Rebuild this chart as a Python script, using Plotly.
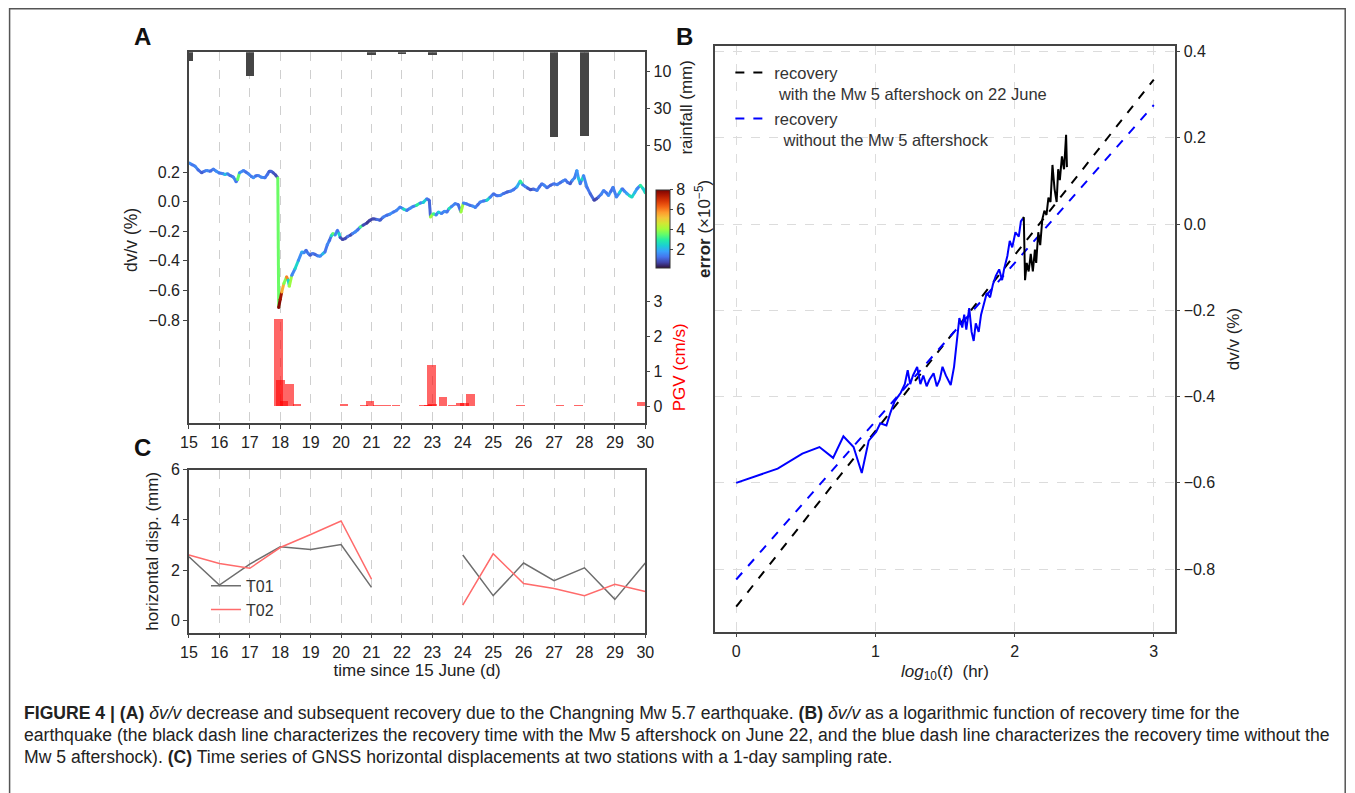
import plotly.graph_objects as go
from plotly.colors import sequential, make_colorscale, sample_colorscale

W, H = 1355, 793

# ---------------- Panel A data ----------------
a_days = [15.00, 15.10, 15.20, 15.30, 15.42, 15.50, 15.58, 15.70, 15.80, 15.90,
          16.00, 16.10, 16.18, 16.27, 16.35, 16.46, 16.55, 16.60, 16.66, 16.79,
          16.87, 16.95, 17.05, 17.12, 17.20, 17.28, 17.38, 17.50, 17.58, 17.64,
          17.70, 17.77, 17.85, 17.92, 17.95, 18.00, 18.05, 18.12, 18.21, 18.26,
          18.30, 18.38, 18.49, 18.60, 18.71, 18.78, 18.85, 18.92, 18.98, 19.06,
          19.14, 19.22, 19.31, 19.40, 19.47, 19.55, 19.62, 19.68, 19.73, 19.80,
          19.88, 19.93, 19.97, 20.05, 20.13, 20.22, 20.30, 20.38, 20.46, 20.55,
          20.63, 20.72, 20.85, 20.95, 21.06, 21.18, 21.28, 21.38, 21.50, 21.60,
          21.72, 21.82, 21.94, 22.05, 22.16, 22.27, 22.37, 22.48, 22.60, 22.70,
          22.82, 22.90, 22.94, 23.03, 23.12, 23.20, 23.30, 23.40, 23.48, 23.55,
          23.62, 23.75, 23.85, 23.94, 24.02, 24.12, 24.24, 24.33, 24.41, 24.50,
          24.57, 24.68, 24.79, 24.90, 25.01, 25.12, 25.23, 25.34, 25.45, 25.56,
          25.67, 25.78, 25.89, 25.97, 26.05, 26.13, 26.22, 26.33, 26.44, 26.52,
          26.60, 26.68, 26.77, 26.88, 26.99, 27.10, 27.20, 27.29, 27.37, 27.45,
          27.53, 27.60, 27.68, 27.75, 27.80, 27.86, 27.92, 27.97, 28.08, 28.19,
          28.32, 28.40, 28.46, 28.55, 28.63, 28.72, 28.79, 28.87, 28.94, 29.05,
          29.15, 29.24, 29.32, 29.40, 29.48, 29.56, 29.65, 29.73, 29.84, 29.92,
          30.00]
a_dvv = [0.262, 0.250, 0.240, 0.215, 0.195, 0.205, 0.211, 0.205, 0.220, 0.205,
         0.193, 0.190, 0.184, 0.188, 0.177, 0.166, 0.135, 0.150, 0.195, 0.210,
         0.200, 0.189, 0.170, 0.162, 0.175, 0.177, 0.165, 0.162, 0.185, 0.206,
         0.205, 0.195, 0.180, 0.160, -0.715, -0.660, -0.610, -0.553, -0.508, -0.530,
         -0.571, -0.497, -0.452, -0.396, -0.340, -0.345, -0.328, -0.350, -0.362, -0.350,
         -0.355, -0.365, -0.369, -0.352, -0.340, -0.290, -0.261, -0.230, -0.216, -0.225,
         -0.194, -0.215, -0.243, -0.255, -0.250, -0.235, -0.227, -0.215, -0.205, -0.190,
         -0.171, -0.160, -0.144, -0.125, -0.115, -0.120, -0.126, -0.105, -0.092, -0.085,
         -0.070, -0.060, -0.036, -0.050, -0.059, -0.045, -0.032, -0.025, -0.009, -0.005,
         0.020, 0.009, -0.104, -0.081, -0.090, -0.070, -0.080, -0.065, -0.070, -0.047,
         -0.035, -0.013, -0.020, -0.070, -0.009, -0.015, -0.025, -0.030, -0.040, -0.020,
         -0.003, 0.005, 0.009, 0.030, 0.054, 0.040, 0.042, 0.055, 0.065, 0.070,
         0.081, 0.100, 0.139, 0.115, 0.103, 0.092, 0.081, 0.085, 0.076, 0.100,
         0.121, 0.110, 0.094, 0.110, 0.121, 0.115, 0.128, 0.140, 0.148, 0.130,
         0.121, 0.145, 0.162, 0.211, 0.160, 0.121, 0.150, 0.177, 0.098, 0.054,
         0.009, 0.020, 0.031, 0.050, 0.076, 0.060, 0.042, 0.070, 0.098, 0.031,
         0.060, 0.088, 0.070, 0.054, 0.040, 0.031, 0.060, 0.088, 0.110, 0.090,
         0.060]
a_err = [1.6, 1.3, 1.5, 1.2, 1.0, 1.3, 1.5, 1.2, 1.4, 1.6,
         1.3, 1.5, 2.2, 1.4, 1.2, 1.5, 1.3, 3.5, 1.6, 1.4,
         1.2, 1.5, 1.3, 1.6, 1.2, 1.4, 1.5, 1.3, 1.2, 1.0,
         1.1, 0.9, 0.8, 3.6, 7.9, 7.6, 5.5, 3.8, 6.0, 2.5,
         4.0, 1.5, 2.5, 1.6, 2.0, 1.5, 1.2, 1.4, 1.0, 1.3,
         1.1, 1.4, 1.6, 2.2, 1.3, 1.5, 1.2, 2.6, 3.5, 1.5,
         1.3, 2.5, 0.9, 0.7, 0.8, 1.2, 0.8, 1.4, 1.5, 1.3,
         3.2, 0.8, 0.6, 0.7, 0.8, 1.2, 1.0, 1.4, 1.2, 1.6,
         1.3, 1.5, 1.4, 2.6, 1.3, 1.6, 1.4, 3.0, 1.5, 2.4,
         1.3, 1.1, 4.0, 3.2, 1.5, 2.3, 1.4, 1.6, 1.3, 2.8,
         1.5, 1.4, 1.2, 4.0, 1.5, 1.3, 1.2, 1.6, 1.4, 1.2,
         1.5, 1.3, 2.5, 1.4, 1.2, 1.3, 1.5, 1.2, 1.1, 1.4,
         1.3, 2.0, 3.0, 1.3, 1.5, 1.0, 0.9, 1.2, 1.4, 1.2,
         1.3, 1.5, 1.2, 1.1, 1.3, 1.4, 1.2, 1.5, 1.3, 1.2,
         1.0, 1.6, 1.4, 1.7, 2.2, 1.3, 2.6, 1.5, 1.3, 1.1,
         0.7, 0.8, 1.2, 1.5, 1.4, 1.3, 1.6, 1.2, 1.4, 1.5,
         2.4, 1.3, 1.6, 2.0, 2.8, 2.5, 2.0, 1.5, 3.0, 2.4,
         2.8]

rain_days = [15, 17, 21, 22, 23, 27, 28]
rain_mm = [5.0, 12.8, 1.6, 1.0, 1.6, 45.6, 45.2]

pgv_days = [17.55, 17.95, 18.00, 18.12, 18.30, 18.55, 18.85, 19.20, 19.50, 19.80,
            20.10, 20.40, 20.75, 20.95, 21.20, 21.50, 21.80, 22.10, 22.40, 22.70,
            22.85, 22.97, 23.00, 23.35, 23.65, 23.90, 24.05, 24.25, 24.60, 25.00,
            25.30, 25.60, 25.90, 26.20, 26.60, 27.00, 27.20, 27.60, 27.80, 28.20,
            28.60, 29.00, 29.40, 29.85]
pgv_vals = [0.01, 2.48, 0.74, 0.15, 0.64, 0.07, 0.02, 0.02, 0.02, 0.02,
            0.08, 0.02, 0.05, 0.15, 0.05, 0.03, 0.03, 0.02, 0.02, 0.03,
            0.05, 1.18, 0.08, 0.28, 0.04, 0.10, 0.10, 0.36, 0.02, 0.02,
            0.02, 0.02, 0.03, 0.02, 0.02, 0.02, 0.05, 0.02, 0.03, 0.02,
            0.02, 0.02, 0.02, 0.13]

day_ticks = list(range(15, 31))
dvv_ticks = [-0.8, -0.6, -0.4, -0.2, 0.0, 0.2]
rain_ticks = [10, 30, 50]
pgv_ticks = [0, 1, 2, 3]
err_ticks = [2, 4, 6, 8]

# ---------------- Panel B data ----------------
b_blue_x = [0.0, 0.298, 0.475, 0.598, 0.696, 0.77, 0.843, 0.902, 0.952, 1.005,
            1.035, 1.079, 1.108, 1.138, 1.182, 1.211, 1.232, 1.25, 1.27, 1.30,
            1.323, 1.344, 1.368, 1.388, 1.418, 1.441, 1.462, 1.482, 1.506, 1.541,
            1.565, 1.603, 1.624, 1.638, 1.653, 1.674, 1.691, 1.706, 1.721, 1.742,
            1.759, 1.78, 1.80, 1.824, 1.844, 1.865, 1.889, 1.91, 1.924, 1.948,
            1.965, 1.983, 2.006, 2.03, 2.045, 2.06]
b_blue_y = [-0.600, -0.567, -0.532, -0.517, -0.542, -0.492, -0.517, -0.577, -0.502, -0.482,
            -0.462, -0.467, -0.437, -0.411, -0.391, -0.371, -0.339, -0.371, -0.351, -0.331,
            -0.371, -0.351, -0.376, -0.361, -0.346, -0.376, -0.361, -0.331, -0.351, -0.373,
            -0.331, -0.218, -0.240, -0.210, -0.245, -0.195, -0.250, -0.271, -0.230, -0.250,
            -0.210, -0.185, -0.160, -0.170, -0.140, -0.120, -0.105, -0.130, -0.105, -0.074,
            -0.039, -0.054, -0.019, -0.029, 0.006, 0.013]
b_black_x = [2.06, 2.066, 2.075, 2.087, 2.101, 2.116, 2.131, 2.146, 2.155, 2.17,
             2.184, 2.199, 2.214, 2.229, 2.243, 2.258, 2.272, 2.287, 2.302, 2.313,
             2.325, 2.34, 2.355, 2.37, 2.376]
b_black_y = [0.013, 0.016, -0.130, -0.090, -0.110, -0.069, -0.110, -0.059, -0.090, -0.019,
             -0.049, 0.011, 0.031, 0.021, 0.061, 0.051, 0.137, 0.081, 0.051, 0.127,
             0.102, 0.157, 0.127, 0.207, 0.132]
fit_x = [0, 3]
fit_with = [-0.887, 0.335]
fit_without = [-0.824, 0.276]
b_xticks = [0, 1, 2, 3]
b_yticks = [-0.8, -0.6, -0.4, -0.2, 0.0, 0.2, 0.4]

# ---------------- Panel C data ----------------
c_days = list(range(15, 31))
c_t01 = [2.53, 1.40, 2.24, 2.93, 2.82, 3.02, 1.31, None, None,
         2.60, 0.98, 2.28, 1.58, 2.09, 0.83, 2.28]
c_t02 = [2.60, 2.26, 2.07, 2.90, 3.42, 3.96, 1.64, None, None,
         0.60, 2.65, 1.46, 1.26, 0.98, 1.43, 1.14]
c_yticks = [0, 2, 4, 6]

# ---------------- helpers: target picture pixels -> paper fractions ----------------
SX, OX = 0.986, 9.3
SY, OY = 0.991, 7.7

def fx(p):
    return p / SX - OX

def fy(p):
    return p / SY - OY

def px_x(p):
    return fx(p) / W

def px_y(p):
    return 1 - fy(p) / H

FONT = "Liberation Sans, Arial, sans-serif"
TXT = "#222"
AX = "#444"
TF = 16      # tick labels
TT = 17      # axis titles
CAP = 17.6   # caption

cmin, cmax = 0.15, 8.0
turbo = make_colorscale(sequential.Turbo)
seg_colors = sample_colorscale(turbo, [min(max((e - cmin) / (cmax - cmin), 0), 1) for e in a_err])

fig = go.Figure()

# rainfall bars
fig.add_trace(go.Bar(x=rain_days, y=rain_mm, width=0.28, marker=dict(color="#454545", line=dict(width=0)),
                     xaxis="x", yaxis="y2", showlegend=False))
# PGV bars
fig.add_trace(go.Bar(x=pgv_days, y=pgv_vals, width=0.28,
                     marker=dict(color="rgba(255,0,0,0.6)", line=dict(width=0)),
                     xaxis="x", yaxis="y3", showlegend=False))

# dv/v coloured line (segments)
for i in range(len(a_days) - 1):
    fig.add_trace(go.Scatter(x=a_days[i:i + 2], y=a_dvv[i:i + 2], mode="lines",
                             line=dict(color=seg_colors[i], width=3),
                             xaxis="x", yaxis="y", showlegend=False, hoverinfo="skip"))
fig.add_trace(go.Scatter(
    x=a_days, y=a_dvv, mode="markers", xaxis="x", yaxis="y", showlegend=False,
    marker=dict(size=3, color=a_err, colorscale=turbo, cmin=cmin, cmax=cmax, showscale=True,
                colorbar=dict(x=px_x(656), xanchor="left", y=px_y(228.5), yanchor="middle",
                              len=(267.7 - 189.3) / SY / H, lenmode="fraction", thickness=13.5,
                              tickvals=err_ticks, ticks="outside", ticklen=3,
                              tickfont=dict(size=TF, color=TXT, family=FONT),
                              outlinewidth=1, outlinecolor="#333", xpad=0, ypad=0))))

# Panel B
fig.add_trace(go.Scatter(x=fit_x, y=fit_with, mode="lines", name="recovery<br>\u00a0with the Mw 5 aftershock on 22 June",
                         line=dict(color="black", width=2, dash="dash"), xaxis="x4", yaxis="y4", legend="legend"))
fig.add_trace(go.Scatter(x=fit_x, y=fit_without, mode="lines", name="recovery<br>\u00a0\u00a0without the Mw 5 aftershock",
                         line=dict(color="#0000ff", width=2, dash="dash"), xaxis="x4", yaxis="y4", legend="legend"))
fig.add_trace(go.Scatter(x=b_blue_x, y=b_blue_y, mode="lines", line=dict(color="#0000ff", width=2),
                         xaxis="x4", yaxis="y4", showlegend=False))
fig.add_trace(go.Scatter(x=b_black_x, y=b_black_y, mode="lines", line=dict(color="black", width=2),
                         xaxis="x4", yaxis="y4", showlegend=False))

# Panel C
fig.add_trace(go.Scatter(x=c_days, y=c_t01, mode="lines", name="T01", line=dict(color="#6e6e6e", width=1.5),
                         xaxis="x5", yaxis="y5", legend="legend2"))
fig.add_trace(go.Scatter(x=c_days, y=c_t02, mode="lines", name="T02", line=dict(color="#ff6b6b", width=1.5),
                         xaxis="x5", yaxis="y5", legend="legend2"))

tickfont = dict(size=TF, color=TXT, family=FONT)
common = dict(showline=True, linecolor=AX, linewidth=1.5, ticks="outside", ticklen=4, tickcolor=AX,
              tickfont=tickfont, zeroline=False)
gridA = dict(showgrid=True, gridcolor="#cfcfcf", griddash="dash", gridwidth=1)

A_dom_x = [px_x(189), px_x(645)]
fig.update_layout(
    width=W, height=H, margin=dict(l=0, r=0, t=0, b=0),
    paper_bgcolor="white", plot_bgcolor="white",
    font=dict(family=FONT, color=TXT, size=TF),
    barmode="overlay", bargap=0,
    xaxis=dict(domain=A_dom_x, range=[15, 30], anchor="y", tickvals=day_ticks, mirror=True, **gridA, **common),
    yaxis=dict(domain=[px_y(423), px_y(52)], range=[-1.495, 1.009], anchor="x", tickvals=dvv_ticks,
               tickformat=".1f", mirror=True, showgrid=False, **common),
    yaxis2=dict(overlaying="y", side="right", anchor="x", range=[198.3, 0], tickvals=rain_ticks,
                showgrid=False, ticks="outside", ticklen=4, tickcolor=AX, tickfont=tickfont, zeroline=False,
                showline=False),
    yaxis3=dict(overlaying="y", side="right", anchor="x", range=[-0.46, 10.06], tickvals=pgv_ticks,
                showgrid=False, ticks="outside", ticklen=4, tickcolor=AX, tickfont=tickfont, zeroline=False,
                showline=False),
    xaxis4=dict(domain=[px_x(715), px_x(1174)], range=[-0.15, 3.15], anchor="y4", tickvals=b_xticks,
                mirror=True, showgrid=True, gridcolor="#dcdcdc", griddash="dash", gridwidth=1,
                title=dict(text="<i>log</i><sub>10</sub>(<i>t</i>)  (hr)", font=dict(size=TT, color=TXT), standoff=6),
                **common),
    yaxis4=dict(domain=[px_y(632), px_y(46)], range=[-0.945, 0.412], anchor="x4", side="right",
                tickvals=b_yticks, tickformat=".1f", mirror=True, showgrid=True, gridcolor="#dcdcdc",
                griddash="dash", gridwidth=1,
                title=dict(text="dv/v (%)", font=dict(size=TT, color=TXT), standoff=13), **common),
    xaxis5=dict(domain=A_dom_x, range=[15, 30], anchor="y5", tickvals=day_ticks, mirror=True,
                title=dict(text="time since 15 June (d)", font=dict(size=TT, color=TXT), standoff=0),
                **gridA, **common),
    yaxis5=dict(domain=[px_y(633), px_y(470)], range=[-0.5, 6], anchor="x5", tickvals=c_yticks,
                mirror=True, showgrid=False,
                title=dict(text="horizontal disp. (mm)", font=dict(size=TT, color=TXT), standoff=8), **common),
    legend=dict(x=px_x(730), y=px_y(55), xanchor="left", yanchor="top", bgcolor="rgba(0,0,0,0)",
                font=dict(size=16.5, color="#333"), valign="top", tracegroupgap=0, itemwidth=34),
    legend2=dict(x=px_x(206), y=px_y(569), xanchor="left", yanchor="top", bgcolor="rgba(0,0,0,0)",
                 font=dict(size=16, color="#333"), tracegroupgap=0),
)

ann = []
def add_text(x, y, text, size=TT, color=TXT, angle=0, xanchor="center", yanchor="middle", bold=False):
    ann.append(dict(x=px_x(x), y=px_y(y), xref="paper", yref="paper", text=("<b>%s</b>" % text) if bold else text,
                    showarrow=False, font=dict(size=size, color=color, family=FONT), textangle=angle,
                    xanchor=xanchor, yanchor=yanchor))

add_text(143, 36, "A", size=24, bold=True, color="#111")
add_text(684, 36, "B", size=24, bold=True, color="#111")
add_text(143, 448, "C", size=24, bold=True, color="#111")
add_text(131, 240, "dv/v (%)", angle=-90, size=17.5)
add_text(686, 107, "rainfall (mm)", angle=-90)
add_text(680, 367, "PGV (cm/s)", angle=-90, color="#ff0000")
add_text(702, 228.5, "<b>error</b> (×10<sup>−5</sup>)", angle=-90, size=17)

cap1 = ("<b>FIGURE 4 | (A)</b> <i>δv/v</i> decrease and subsequent recovery due to the Changning Mw 5.7 earthquake. "
        "<b>(B)</b> <i>δv/v</i> as a logarithmic function of recovery time for the")
cap2 = ("earthquake (the black dash line characterizes the recovery time with the Mw 5 aftershock on June 22, "
        "and the blue dash line characterizes the recovery time without the")
cap3 = ("Mw 5 aftershock). <b>(C)</b> Time series of GNSS horizontal displacements at two stations with a "
        "1-day sampling rate.")
add_text(22, 713, cap1, size=CAP, xanchor="left", color="#222")
add_text(22, 735, cap2, size=CAP, xanchor="left", color="#222")
add_text(22, 757, cap3, size=CAP, xanchor="left", color="#222")

fig.update_layout(annotations=ann,
                  shapes=[dict(type="rect", xref="paper", yref="paper", x0=max(px_x(9), 0.6 / W),
                               x1=min(px_x(1353), 1 - 0.8 / W),
                               y0=-0.05, y1=min(px_y(8.5), 1 - 0.8 / H), line=dict(color="#555", width=1.5))])

fig.write_html("out.html", config={"displayModeBar": False},
               post_script="document.body.style.margin='0';document.body.style.padding='0';"
                           "document.body.style.overflow='hidden';")
